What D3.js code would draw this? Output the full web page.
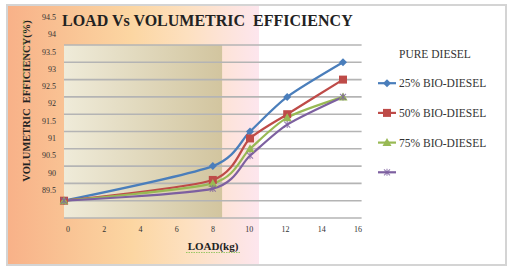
<!DOCTYPE html>
<html><head><meta charset="utf-8">
<script src="https://cdn.jsdelivr.net/npm/d3@7"></script>
<style>html,body{margin:0;padding:0;background:#fff;}svg{display:block;}</style>
</head><body>
<script>
// ---- data ----
const loads = [0, 8, 10, 12, 15];
const seriesNames = ["25% BIO-DIESEL", "50% BIO-DIESEL", "75% BIO-DIESEL", "PURE DIESEL"];
const bio25 = [89.0, 90.0, 91.0, 92.0, 93.0];
const bio50 = [89.0, 89.6, 90.8, 91.5, 92.5];
const bio75 = [89.0, 89.5, 90.5, 91.4, 92.0];
const pure  = [89.0, 89.35, 90.3, 91.2, 92.0];
const xTicks = [0, 2, 4, 6, 8, 10, 12, 14, 16];
const yGrid = [88.5, 89, 89.5, 90, 90.5, 91, 91.5, 92, 92.5, 93, 93.5];
const yTickLabels = [89.5, 90, 90.5, 91, 91.5, 92, 92.5, 93, 93.5, 94, 94.5];
const legendLabels = ["PURE DIESEL", "25% BIO-DIESEL", "50% BIO-DIESEL", "75% BIO-DIESEL", ""];
const legendSeries = [-1, 0, 1, 2, 3];
const colors = ["#4a7ebb", "#be4b48", "#98b954", "#7d60a0"];
const markers = ["diamond", "square", "triangle", "x"];
const title = "LOAD Vs VOLUMETRIC\u00a0\u00a0EFFICIENCY";
const xTitle = "LOAD(kg)";
const yTitle = "VOLUMETRIC\u00a0\u00a0EFFICIENCY(%)";

const values = [bio25, bio50, bio75, pure];

const W = 508, H = 268;
const svg = d3.select("body").append("svg").attr("width", W).attr("height", H);
const defs = svg.append("defs");

const bg = defs.append("linearGradient").attr("id", "bg").attr("x1", "0").attr("x2", "1").attr("y1", "0").attr("y2", "0");
[["0%", "#f8b188"], ["12%", "#f9c394"], ["25%", "#fcd6a2"], ["36%", "#fde0bf"], ["43%", "#fde3d6"], ["50.5%", "#fde6ee"], ["50.6%", "#ffffff"], ["100%", "#ffffff"]]
  .forEach(([o, c]) => bg.append("stop").attr("offset", o).attr("stop-color", c));

const pg = defs.append("linearGradient").attr("id", "pg").attr("x1", "0").attr("x2", "1").attr("y1", "0").attr("y2", "0");
[["0%", "#efebd9"], ["100%", "#d2c59f"]].forEach(([o, c]) => pg.append("stop").attr("offset", o).attr("stop-color", c));

// frame
svg.append("rect").attr("x", 7).attr("y", 5).attr("width", 499).attr("height", 260)
  .attr("fill", "url(#bg)").attr("stroke", "#d4d4d4").attr("stroke-width", 2);

const x = d3.scaleLinear().domain([0, 16]).range([64, 361.6]);
const y = d3.scaleLinear().domain([88.5, 93.5]).range([218, 45]);

// plot fill (partial, as in reference)
svg.append("rect").attr("x", x(0)).attr("y", y(93.5)).attr("width", x(8.5) - x(0)).attr("height", y(88.5) - y(93.5))
  .attr("fill", "url(#pg)");

// gridlines
svg.append("g").selectAll("line").data(yGrid).join("line")
  .attr("x1", x(0)).attr("x2", x(16)).attr("y1", d => y(d)).attr("y2", d => y(d))
  .attr("stroke", "#b4b4b4").attr("stroke-width", 1.6);

const serif = "'Liberation Serif', 'Times New Roman', 'DejaVu Serif', serif";

// y tick labels (offset as in reference)
svg.append("g").selectAll("text").data(yTickLabels).join("text")
  .attr("x", 56).attr("y", d => y(d) + 6.7).attr("dy", "0.35em")
  .attr("text-anchor", "end").attr("font-family", serif)
  .attr("font-size", 8).attr("fill", "#333").text(d => d);

// x tick labels
const xl = d3.scaleLinear().domain([0, 16]).range([68, 358]);
svg.append("g").selectAll("text").data(xTicks).join("text")
  .attr("x", d => xl(d)).attr("y", 229).attr("dy", "0.35em")
  .attr("text-anchor", "middle").attr("font-family", serif)
  .attr("font-size", 8).attr("fill", "#333").text(d => d);

// lines
const line = d3.line().x((d, i) => x(loads[i])).y(d => y(d)).curve(d3.curveCardinal.tension(0.25));
values.forEach((v, s) => {
  svg.append("path").attr("d", line(v)).attr("fill", "none").attr("stroke", colors[s]).attr("stroke-width", 2.2);
});

function drawMarker(g, type, cx, cy, color) {
  if (type === "diamond") {
    g.append("path").attr("d", `M${cx},${cy - 4}L${cx + 4},${cy}L${cx},${cy + 4}L${cx - 4},${cy}Z`).attr("fill", color);
  } else if (type === "square") {
    g.append("rect").attr("x", cx - 4).attr("y", cy - 4).attr("width", 8).attr("height", 8).attr("fill", color);
  } else if (type === "triangle") {
    g.append("path").attr("d", `M${cx},${cy - 4.5}L${cx + 4.5},${cy + 3.5}L${cx - 4.5},${cy + 3.5}Z`).attr("fill", color);
  } else {
    g.append("path").attr("d", `M${cx - 3},${cy - 3}L${cx + 3},${cy + 3}M${cx - 3},${cy + 3}L${cx + 3},${cy - 3}M${cx},${cy - 3.5}L${cx},${cy + 3.5}`)
      .attr("stroke", color).attr("stroke-width", 1.1).attr("fill", "none").attr("opacity", 0.8);
  }
}
const mg = svg.append("g");
values.forEach((v, s) => {
  v.forEach((d, i) => drawMarker(mg, markers[s], x(loads[i]), y(d), colors[s]));
});

// titles
svg.append("text").attr("x", 62).attr("y", 26).attr("font-family", serif).attr("font-weight", "bold")
  .attr("font-size", 16).attr("fill", "#222").text(title);
svg.append("text").attr("x", 213).attr("y", 250).attr("text-anchor", "middle").attr("font-family", serif)
  .attr("font-weight", "bold").attr("font-size", 11).attr("fill", "#222").text(xTitle);
svg.append("line").attr("x1", 186).attr("x2", 241).attr("y1", 252.5).attr("y2", 252.5)
  .attr("stroke", "#7fbf4a").attr("stroke-width", 0.8).attr("stroke-dasharray", "1.5,1");
svg.append("text").attr("transform", "translate(30,101) rotate(-90)").attr("text-anchor", "middle")
  .attr("font-family", serif).attr("font-weight", "bold").attr("font-size", 10.5).attr("fill", "#222").text(yTitle);
svg.append("line").attr("x1", 24).attr("x2", 24).attr("y1", 20).attr("y2", 93)
  .attr("stroke", "#7fbf4a").attr("stroke-width", 0.8).attr("stroke-dasharray", "1.5,1");

// legend
const lg = svg.append("g");
legendLabels.forEach((lab, i) => {
  const ly = 53.5 + i * 29.7;
  const s = legendSeries[i];
  if (s >= 0) {
    lg.append("line").attr("x1", 378).attr("x2", 396).attr("y1", ly).attr("y2", ly)
      .attr("stroke", colors[s]).attr("stroke-width", 2.2);
    drawMarker(lg, markers[s], 387, ly, colors[s]);
  }
  lg.append("text").attr("x", 399).attr("y", ly).attr("dy", "0.35em").attr("font-family", serif)
    .attr("font-size", 11.5).attr("fill", "#333").text(lab);
});
</script>
</body></html>
